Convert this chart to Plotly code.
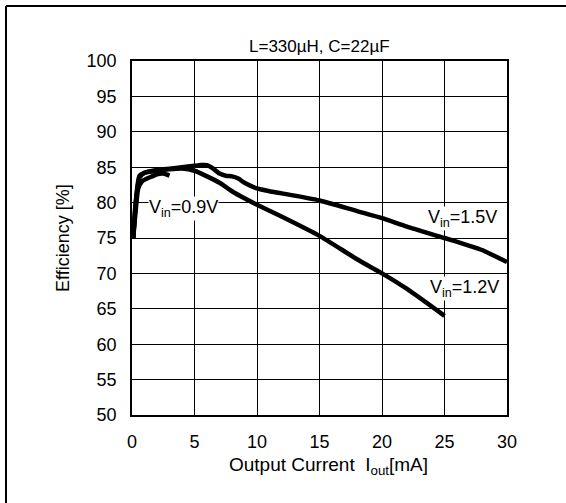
import plotly.graph_objects as go

# ---- data ----
x_09 = [0.1, 0.3, 0.5, 0.8, 1.2, 1.6, 2.0, 2.5, 3.0]
y_09 = [75.0, 79.0, 82.0, 83.0, 83.4, 83.7, 84.0, 84.1, 83.8]

x_12 = [0.1, 0.3, 0.6, 1, 2, 3, 4, 5, 6, 7, 8, 9, 10, 12, 15, 18, 20, 22, 25]
y_12 = [75.0, 80.0, 83.5, 84.2, 84.5, 84.7, 84.8, 84.5, 83.7, 82.8, 81.6, 80.6,
        79.7, 78.0, 75.3, 72.0, 70.0, 67.8, 64.0]

x_15 = [0.1, 0.3, 0.6, 1, 2, 3, 4, 5, 5.5, 6, 6.5, 7, 7.5, 8, 8.5, 9, 10, 11, 12,
        15, 18, 20, 22, 25, 27, 28, 30]
y_15 = [75.0, 80.0, 83.8, 84.2, 84.6, 84.8, 85.0, 85.2, 85.3, 85.3, 84.8, 84.1,
        83.8, 83.7, 83.4, 82.8, 82.0, 81.6, 81.3, 80.3, 78.8, 77.8, 76.6, 75.0,
        73.9, 73.3, 71.6]

x_ticks = [0, 5, 10, 15, 20, 25, 30]
y_ticks = [50, 55, 60, 65, 70, 75, 80, 85, 90, 95, 100]

labels = ["V<sub>in</sub>=0.9V", "V<sub>in</sub>=1.5V", "V<sub>in</sub>=1.2V"]
label_x = [4.1, 26.4, 26.6]
label_y = [79.2, 77.7, 67.8]

title_text = "L=330µH, C=22µF"
x_title = "Output Current  I<sub>out</sub>[mA]"
y_title = "Efficiency [%]"

FONT = "Liberation Sans, Arial, Helvetica, sans-serif"
FS = 18

fig = go.Figure()
for xs, ys in [(x_09, y_09), (x_12, y_12), (x_15, y_15)]:
    fig.add_trace(go.Scatter(x=xs, y=ys, mode="lines",
                             line=dict(color="black", width=4.5, shape="spline", smoothing=0.6),
                             showlegend=False, hoverinfo="skip"))

for t, lx, ly in zip(labels, label_x, label_y):
    fig.add_annotation(x=lx, y=ly, xref="x", yref="y", text=t, showarrow=False,
                       bgcolor="white", borderpad=0,
                       font=dict(family=FONT, size=FS, color="black"))

# titles
fig.add_annotation(x=0.5, y=1.0, xref="paper", yref="paper", yshift=3,
                   xanchor="center", yanchor="bottom", text=title_text, showarrow=False,
                   font=dict(family=FONT, size=FS - 1, color="black"))
fig.add_annotation(x=0.525, y=0, xref="paper", yref="paper", yshift=-37,
                   xanchor="center", yanchor="top", text=x_title, showarrow=False,
                   font=dict(family=FONT, size=FS + 1, color="black"))
fig.add_annotation(x=0, y=0.5, xref="paper", yref="paper", xshift=-69,
                   xanchor="center", yanchor="middle", text=y_title, showarrow=False,
                   textangle=-90, font=dict(family=FONT, size=FS, color="black"))

# outer frame (only left & top visible in the reference)
fx = (6 - 132) / 375
fy = 1 + (61 - 6) / 354
fig.add_shape(type="line", xref="paper", yref="paper",
              x0=fx, x1=fx, y0=fy, y1=-1, line=dict(color="black", width=2))
fig.add_shape(type="line", xref="paper", yref="paper",
              x0=fx, x1=2, y0=fy, y1=fy, line=dict(color="black", width=2))

axis_common = dict(showline=True, mirror=True, linecolor="black", linewidth=1.5,
                   showgrid=True, gridcolor="black", gridwidth=1, zeroline=False,
                   ticks="outside", tickcolor="rgba(0,0,0,0)",
                   tickfont=dict(family=FONT, size=FS, color="black"))
fig.update_xaxes(range=[0, 30], tickvals=x_ticks, ticklen=10, **axis_common)
fig.update_yaxes(range=[50, 100], tickvals=y_ticks, ticklen=10, **axis_common)

fig.update_layout(width=566, height=503, margin=dict(l=132, r=59, t=61, b=88),
                  paper_bgcolor="white", plot_bgcolor="white",
                  font=dict(family=FONT, color="black"))

fig.write_html("out.html", config={"displayModeBar": False},
               post_script="document.body.style.margin='0';document.body.style.overflow='hidden';")
